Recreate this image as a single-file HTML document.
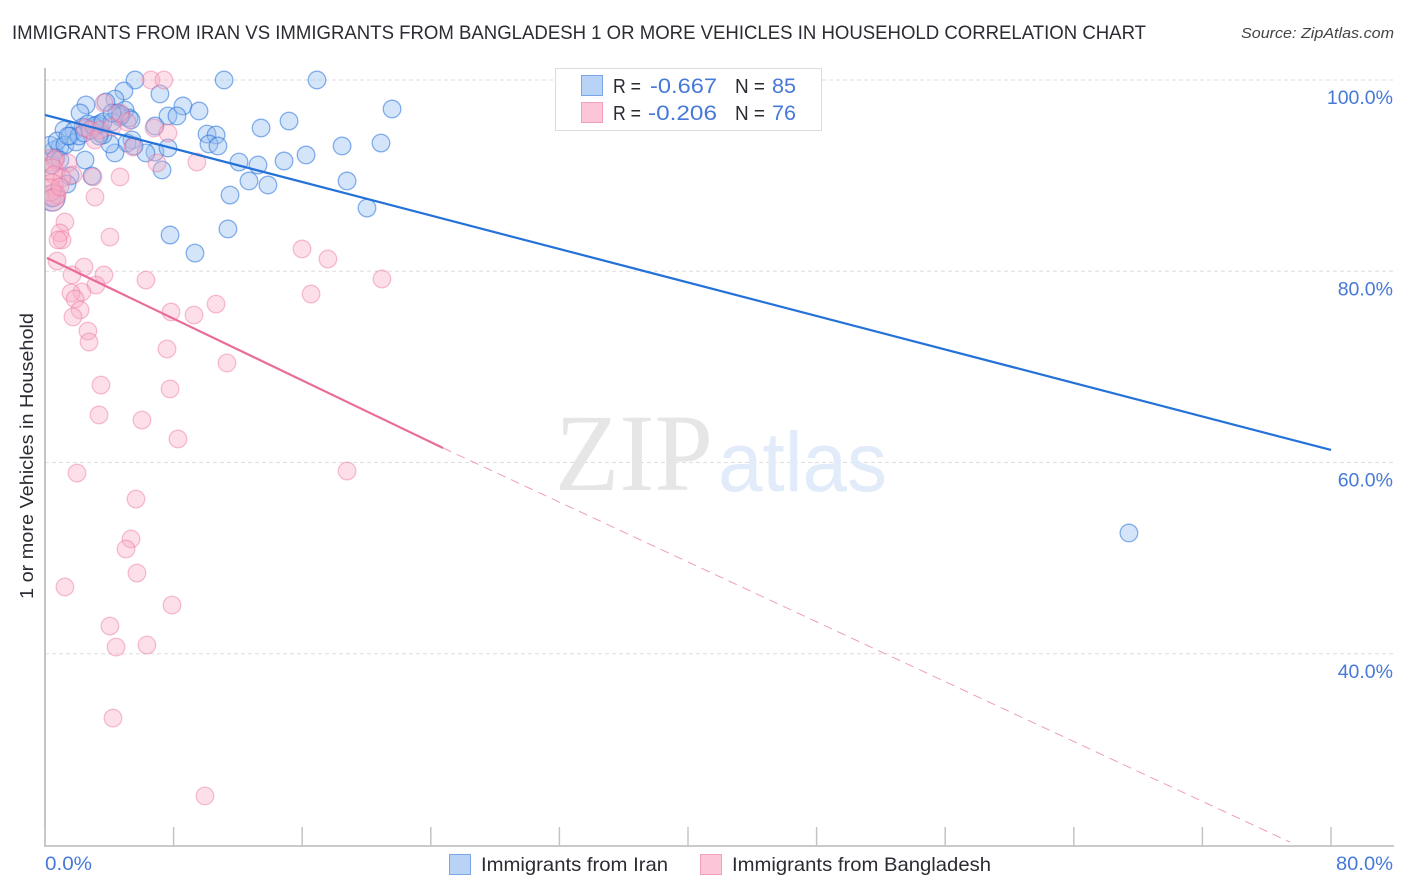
<!DOCTYPE html>
<html lang="en">
<head>
<meta charset="utf-8">
<title>Immigrants from Iran vs Immigrants from Bangladesh</title>
<style>
html,body{margin:0;padding:0;background:#fff;width:1406px;height:892px;overflow:hidden}
svg{display:block}
text{font-family:"Liberation Sans",sans-serif}
</style>
</head>
<body>
<svg id="chart" width="1406" height="892" viewBox="0 0 1406 892" xmlns="http://www.w3.org/2000/svg">
  <defs>
    <clipPath id="plot-clip"><rect x="45" y="60" width="1350" height="786"/></clipPath>
  </defs>
  <rect x="0" y="0" width="1406" height="892" fill="#ffffff"/>
  <text x="12" y="39" font-size="19" fill="#2b2b33" textLength="1134" lengthAdjust="spacingAndGlyphs">IMMIGRANTS FROM IRAN VS IMMIGRANTS FROM BANGLADESH 1 OR MORE VEHICLES IN HOUSEHOLD CORRELATION CHART</text>
  <text x="1241" y="38" font-size="15" font-style="italic" fill="#444" textLength="153" lengthAdjust="spacingAndGlyphs">Source: ZipAtlas.com</text>
  <g id="grid"></g>
  <g>
    <text x="555" y="490" font-size="110" fill="#e6e6e6" textLength="158" lengthAdjust="spacingAndGlyphs" style="font-family:'Liberation Serif',serif">ZIP</text>
    <text x="718" y="491" font-size="84" fill="#e2ebf9" textLength="169" lengthAdjust="spacingAndGlyphs" style="font-family:'Liberation Sans',sans-serif">atlas</text>
  </g>
  <g id="axes"></g>
  <g clip-path="url(#plot-clip)">
    <g id="points-blue"></g>
    <g id="points-pink"></g>
    <g id="trends"></g>
  </g>
  <g id="tick-labels"></g>
  <text transform="translate(33 456) rotate(-90)" text-anchor="middle" font-size="18.5" fill="#2b2b33" textLength="286" lengthAdjust="spacingAndGlyphs">1 or more Vehicles in Household</text>

  <g>
    <rect x="555.5" y="68.5" width="266" height="62" fill="#ffffff" stroke="#dcdcdc"/>
    <rect x="581.5" y="75.5" width="21" height="20" fill="#b8d3f6" stroke="#7aa7e6"/>
    <rect x="581.5" y="102.5" width="21" height="20" fill="#fcc5d8" stroke="#f0a0bc"/>
    <text x="613" y="93" font-size="20" fill="#2b2b33" textLength="28" lengthAdjust="spacingAndGlyphs">R =</text>
    <text x="650" y="93" font-size="21" fill="#4679d8" textLength="67" lengthAdjust="spacingAndGlyphs">-0.667</text>
    <text x="735" y="93" font-size="20" fill="#2b2b33" textLength="30" lengthAdjust="spacingAndGlyphs">N =</text>
    <text x="772" y="93" font-size="21" fill="#4679d8" textLength="24" lengthAdjust="spacingAndGlyphs">85</text>
    <text x="613" y="120" font-size="20" fill="#2b2b33" textLength="28" lengthAdjust="spacingAndGlyphs">R =</text>
    <text x="648" y="120" font-size="21" fill="#4679d8" textLength="69" lengthAdjust="spacingAndGlyphs">-0.206</text>
    <text x="735" y="120" font-size="20" fill="#2b2b33" textLength="30" lengthAdjust="spacingAndGlyphs">N =</text>
    <text x="772" y="120" font-size="21" fill="#4679d8" textLength="24" lengthAdjust="spacingAndGlyphs">76</text>
  </g>

  <g>
    <rect x="449.5" y="854.5" width="21" height="20" fill="#b8d3f6" stroke="#7aa7e6"/>
    <text x="481" y="871" font-size="19.5" fill="#2b2b33" textLength="187" lengthAdjust="spacingAndGlyphs">Immigrants from Iran</text>
    <rect x="700.5" y="854.5" width="21" height="20" fill="#fcc5d8" stroke="#f0a0bc"/>
    <text x="732" y="871" font-size="19.5" fill="#2b2b33" textLength="259" lengthAdjust="spacingAndGlyphs">Immigrants from Bangladesh</text>
  </g>
</svg>
<script>
const yTickValues = [100, 80, 60, 40];
const yTickLabels = ["100.0%", "80.0%", "60.0%", "40.0%"];
const xTickValues = [0, 8, 16, 24, 32, 40, 48, 56, 64, 72, 80];
const xEndValues = [0, 80];
const xEndLabels = ["0.0%", "80.0%"];

const iranX = [5.60,16.92,11.14,7.15,4.91,4.35,3.79,2.55,2.18,8.58,9.58,21.59,4.98,4.48,5.23,4.67,7.65,8.21,13.44,15.18,6.84,3.42,2.36,1.18,1.80,2.67,3.17,10.08,10.64,10.20,10.76,5.41,5.10,4.35,4.04,6.84,6.28,7.65,18.48,20.90,16.24,12.07,13.25,14.87,7.28,2.49,2.92,1.56,1.37,12.69,13.87,18.79,11.51,20.03,11.38,7.78,9.33,67.43,0.56,0.93,0.31,0.75,1.24,1.56,1.93,2.11,2.43,2.80,3.42,3.61,3.23,4.17,4.73,5.35,0.68,0.44,0.44,0.44,0.93,1.43,3.05,3.36,5.54,3.61,4.17];
const iranY = [100,100,100,98.54,98.85,98.01,97.70,97.39,96.55,97.28,96.76,96.97,96.86,96.55,96.03,96.13,96.24,96.24,94.98,95.71,95.19,95.40,95.08,94.77,94.67,95.40,94.98,94.35,94.25,93.31,93.10,93.73,93.41,92.37,93.31,92.47,92.37,92.89,93.10,93.41,92.16,91.42,91.11,91.53,90.59,91.63,89.96,89.96,89.12,89.44,89.02,89.44,87.97,86.61,84.42,83.79,81.90,52.63,92.68,93.00,93.20,93.62,93.20,94.14,93.52,94.14,94.46,94.77,94.46,94.25,95.29,95.61,96.34,95.82,91.84,91.11,87.66,87.66,91.63,94.14,95.19,94.14,93.10,95.61,96.55];
const iranLargeIndex = [76];

const bangladeshX = [6.59,7.40,3.67,5.10,6.78,7.65,5.47,6.97,9.45,4.67,2.99,3.11,1.24,0.93,1.06,0.81,4.04,0.75,2.43,1.68,3.67,6.28,3.17,2.30,1.62,1.87,2.18,1.74,2.67,2.74,7.84,9.27,10.64,7.59,11.32,3.48,7.78,3.36,6.03,8.27,1.99,5.66,5.35,5.04,5.72,7.90,1.24,4.04,4.42,6.34,4.23,9.95,15.99,17.60,20.96,16.55,18.79,0.44,0.62,1.43,1.74,0.44,0.56,1.06,0.44,0.56,0.75,0.31,0.50,0.93,2.80,3.42,3.11,2.49,4.17,4.67];
const bangladeshY = [100,100,97.59,95.61,94.98,94.46,92.99,91.32,91.42,89.86,89.86,87.76,85.15,84.00,83.27,83.27,83.58,81.07,80.44,79.61,79.61,79.08,78.56,77.83,77.73,77.10,75.95,75.22,73.75,72.60,75.74,75.42,76.57,71.87,70.41,68.10,67.69,64.97,64.44,62.46,58.90,56.18,52.00,50.95,48.44,45.09,46.98,42.90,40.70,40.91,33.27,25.13,82.33,81.28,79.19,77.62,59.11,91.63,91.63,91.32,90.07,90.59,90.07,89.75,89.02,87.97,87.97,88.50,87.45,88.81,94.77,94.77,93.73,94.98,95.08,96.55];
const bangladeshLargeIndex = [57, 61, 64, 65, 67, 68];

const iranTrendX = [0, 80];
const iranTrendY = [96.34, 61.31];
const bangladeshSolidX = [0.12, 24.76];
const bangladeshSolidY = [81.4, 61.52];
const bangladeshDashX = [24.76, 77.45];
const bangladeshDashY = [61.52, 20.3];

const NS = "http://www.w3.org/2000/svg";
const sx = v => 45 + v * 16.075;
const sy = v => 80 + (100 - v) * 9.5625;

function make(tag, parentId, attrs, txt) {
  const el = document.createElementNS(NS, tag);
  for (const k in attrs) el.setAttribute(k, attrs[k]);
  if (txt !== undefined) el.textContent = txt;
  document.getElementById(parentId).appendChild(el);
  return el;
}

yTickValues.forEach(function (v, i) {
  const g = make("line", "grid", {x1: 45, x2: 1394, y1: sy(v), y2: sy(v), stroke: "#dedede", "stroke-width": 1, "stroke-dasharray": "4 3"});
  
  
  const t = make("text", "tick-labels", {x: 1393, y: sy(v) + 24, "text-anchor": "end", "font-size": 19.5, fill: "#4679d8"}, yTickLabels[i]);
  
  
});

const yAxis = make("line", "axes", {x1: 45, x2: 45, y1: 68, y2: 846, stroke: "#b0b0b0", "stroke-width": 1.5});


const xAxis = make("line", "axes", {x1: 44, x2: 1394, y1: 846, y2: 846, stroke: "#b8b8b8", "stroke-width": 1.5});



xTickValues.forEach(function (v) {
  const tick = make("line", "axes", {x1: sx(v), x2: sx(v), y1: 827, y2: 846, stroke: "#c4c4c4", "stroke-width": 1.5});
  
  
});

xEndValues.forEach(function (v, i) {
  const t = make("text", "tick-labels", {x: i === 0 ? sx(v) : 1336, y: 870, "font-size": 19.5, fill: "#4679d8", textLength: i === 0 ? 47 : 57, lengthAdjust: "spacingAndGlyphs"}, xEndLabels[i]);
  
  
});

iranX.forEach(function (v, i) {
  const r = iranLargeIndex.includes(i) ? 13 : 8.8;
  const c = make("circle", "points-blue", {cx: sx(v), cy: sy(iranY[i]), r: r, fill: "rgba(150,190,240,0.4)", stroke: "rgba(40,115,220,0.55)", "stroke-width": 1.3});
  
  
});

bangladeshX.forEach(function (v, i) {
  const r = bangladeshLargeIndex.includes(i) ? 11 : 8.8;
  const c = make("circle", "points-pink", {cx: sx(v), cy: sy(bangladeshY[i]), r: r, fill: "rgba(248,170,195,0.38)", stroke: "rgba(235,110,155,0.42)", "stroke-width": 1.3});
  
  
});

const tb = make("line", "trends", {x1: sx(iranTrendX[0]), y1: sy(iranTrendY[0]), x2: sx(iranTrendX[1]), y2: sy(iranTrendY[1]), stroke: "#2472d8", "stroke-width": 2.2});


const tp = make("line", "trends", {x1: sx(bangladeshSolidX[0]), y1: sy(bangladeshSolidY[0]), x2: sx(bangladeshSolidX[1]), y2: sy(bangladeshSolidY[1]), stroke: "#e96d9b", "stroke-width": 2.2});


const td = make("line", "trends", {x1: sx(bangladeshDashX[0]), y1: sy(bangladeshDashY[0]), x2: sx(bangladeshDashX[1]), y2: sy(bangladeshDashY[1]), stroke: "#ee9dbb", "stroke-width": 1, "stroke-dasharray": "9 6"});


</script>
</body>
</html>
